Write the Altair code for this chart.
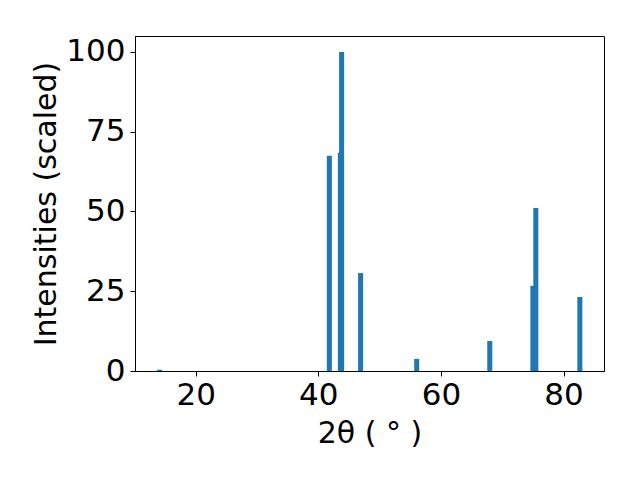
import altair as alt
import pandas as pd

two_theta = [14.1, 41.8, 43.8, 43.6, 46.9, 56.05, 67.97, 75.0, 75.48, 82.66]
intensity = [0.4, 67.5, 100.0, 68.4, 30.7, 3.8, 9.4, 26.7, 51.1, 23.2]
x_ticks = [20, 40, 60, 80]
y_ticks = [0, 25, 50, 75, 100]

df = pd.DataFrame({"theta": two_theta, "intensity": intensity})

FONT = "DejaVu Sans"

chart = (
    alt.Chart(df)
    .transform_calculate(x0="datum.theta - 0.41", x1="datum.theta + 0.41")
    .mark_bar(color="#1f77b4")
    .encode(
        x=alt.X(
            "x0:Q",
            scale=alt.Scale(domain=[10.1, 86.6], nice=False, zero=False),
            axis=alt.Axis(
                values=x_ticks,
                title="2θ ( ° )",
                grid=False,
                tickSize=5,
                labelPadding=4,
                titlePadding=8,
                labelFontSize=31,
                titleFontSize=30,
                labelFont=FONT,
                titleFont=FONT,
                titleFontWeight="normal",
                labelColor="black",
                titleColor="black",
                domainColor="black",
                tickColor="black",
            ),
        ),
        x2="x1:Q",
        y=alt.Y(
            "intensity:Q",
            scale=alt.Scale(domain=[0, 105], nice=False),
            axis=alt.Axis(
                values=y_ticks,
                title="Intensities (scaled)",
                grid=False,
                tickSize=5,
                labelPadding=5,
                titlePadding=4,
                labelFontSize=31,
                titleFontSize=30,
                labelFont=FONT,
                titleFont=FONT,
                titleFontWeight="normal",
                labelColor="black",
                titleColor="black",
                domainColor="black",
                tickColor="black",
            ),
        ),
        y2=alt.datum(0),
    )
    .properties(
        width=469,
        height=335,
        autosize=alt.AutoSizeParams(type="none"),
        padding={"left": 127, "top": 28, "right": 28, "bottom": 101},
    )
    .configure_view(stroke="black", strokeWidth=1)
)

chart.save("out.html", embed_options={"renderer": "svg", "actions": False})
